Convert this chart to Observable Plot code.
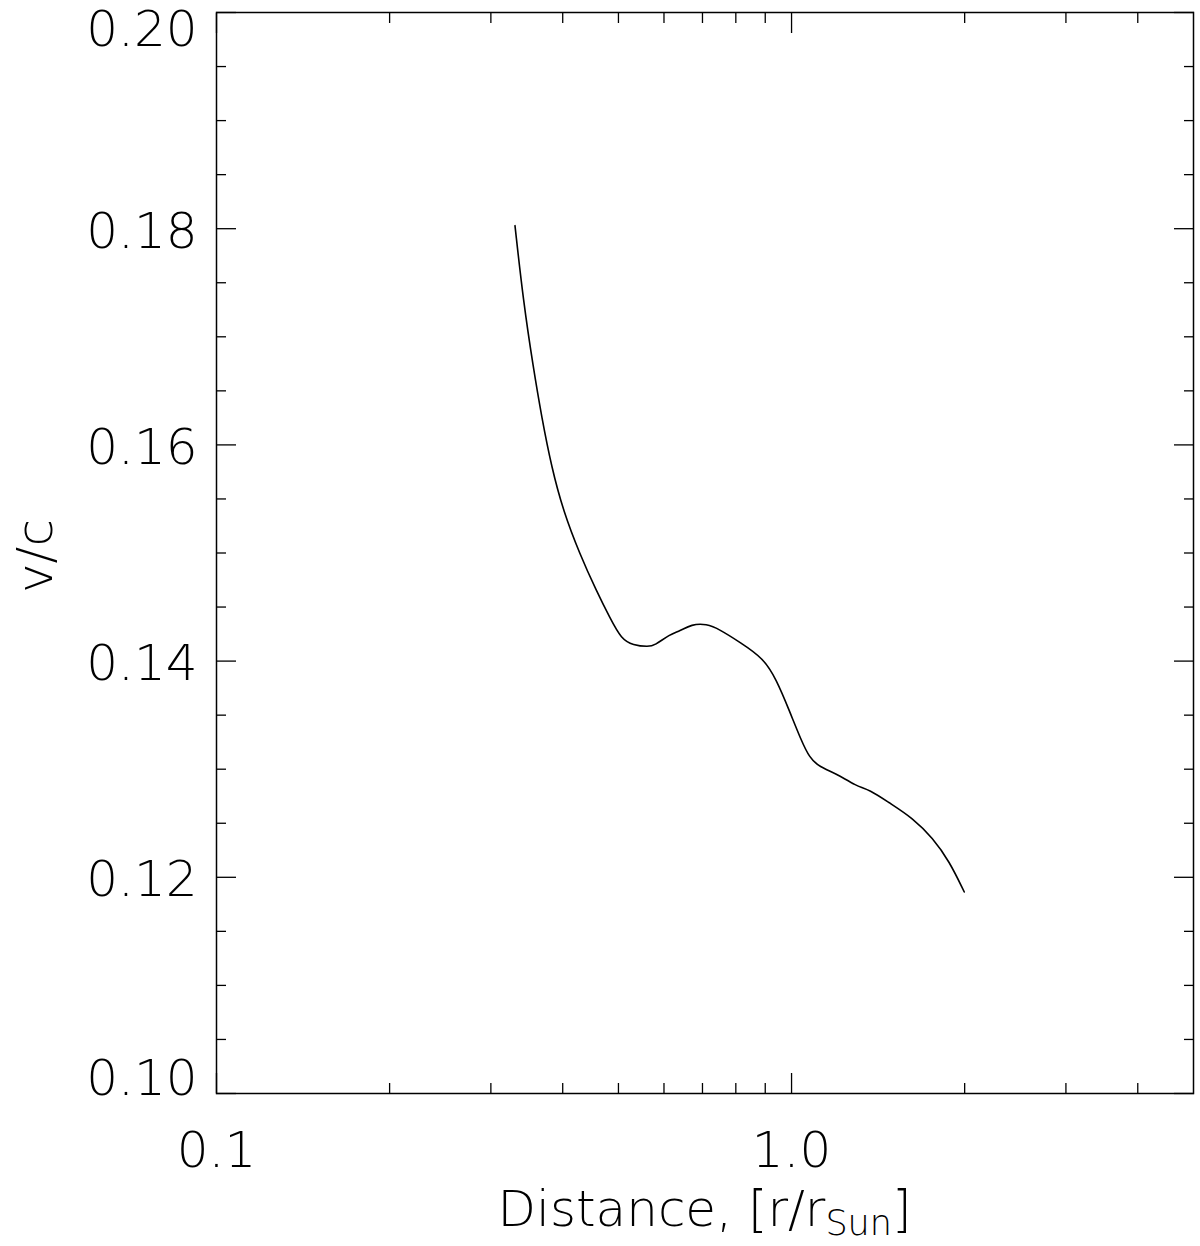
<!DOCTYPE html>
<html>
<head>
<meta charset="utf-8">
<script src="https://cdn.jsdelivr.net/npm/d3@7"></script>
<script src="https://cdn.jsdelivr.net/npm/@observablehq/plot@0.6"></script>
<style>
  html, body { margin: 0; padding: 0; background: #fff; }
  svg { font-family: "DejaVu Sans", sans-serif; font-weight: 200; }
  svg text { font-weight: 200; }
</style>
</head>
<body>
<div id="chart"></div>
<script>
// Distance r/r_Sun
const distance = [0.3304, 0.3416, 0.3555, 0.3678, 0.3827, 0.4009, 0.4284, 0.4580, 0.4831, 0.5062,
  0.5302, 0.5630, 0.5781, 0.6141, 0.6391, 0.6697, 0.7111, 0.7499, 0.8123, 0.8919,
  0.9406, 0.9920, 1.039, 1.0746, 1.1185, 1.1956, 1.2958, 1.366, 1.480, 1.624,
  1.760, 1.881, 1.997];
// v/c
const velocity = [0.18028, 0.17333, 0.16716, 0.16253, 0.15790, 0.15389, 0.14988, 0.14648, 0.14401, 0.14201,
  0.14148, 0.14132, 0.14145, 0.14247, 0.14278, 0.14340, 0.14345, 0.14293, 0.14176, 0.14031,
  0.13833, 0.13537, 0.13269, 0.13105, 0.13021, 0.12960, 0.12843, 0.12812, 0.12688, 0.12549,
  0.12364, 0.12148, 0.11864];

const xMajor = [0.1, 1.0];
const xMinor = [0.2, 0.3, 0.4, 0.5, 0.6, 0.7, 0.8, 0.9, 2, 3, 4];
const yMajorMid = [0.12, 0.14, 0.16, 0.18];
const yMajor = [0.10, 0.12, 0.14, 0.16, 0.18, 0.20];
const yMinor = [0.105, 0.110, 0.115, 0.125, 0.130, 0.135, 0.145, 0.150, 0.155,
  0.165, 0.170, 0.175, 0.185, 0.190, 0.195];

const data = distance.map((d, i) => ({x: d, y: velocity[i]}));

const W = 1200, H = 1246;
const mL = 216, mT = 12, mR = 7, mB = 153;
const fs = 50;

const plot = Plot.plot({
  width: W, height: H,
  marginLeft: mL, marginTop: mT, marginRight: mR, marginBottom: mB,
  style: {fontFamily: '"DejaVu Sans", sans-serif', fontSize: fs + "px", color: "#000", background: "#fff"},
  x: {type: "log", domain: [0.1, 5]},
  y: {domain: [0.10, 0.20]},
  marks: [
    // minor ticks (inward)
    Plot.axisX({anchor: "bottom", ticks: xMinor, tickSize: -10, text: null, label: null, strokeWidth: 1.3}),
    Plot.axisX({anchor: "top", ticks: xMinor, tickSize: -10, text: null, label: null, strokeWidth: 1.3}),
    Plot.axisX({anchor: "bottom", ticks: xMajor, tickSize: -20, text: null, label: null, strokeWidth: 1.3}),
    Plot.axisX({anchor: "top", ticks: xMajor, tickSize: -20, text: null, label: null, strokeWidth: 1.3}),
    Plot.axisY({anchor: "left", ticks: yMinor, tickSize: -10, text: null, label: null, strokeWidth: 1.3}),
    Plot.axisY({anchor: "right", ticks: yMinor, tickSize: -10, text: null, label: null, strokeWidth: 1.3}),
    Plot.axisY({anchor: "left", ticks: yMajor, tickSize: -20, text: null, label: null, strokeWidth: 1.3}),
    Plot.axisY({anchor: "right", ticks: yMajor, tickSize: -20, text: null, label: null, strokeWidth: 1.3}),
    // tick labels
    Plot.axisX({anchor: "bottom", ticks: xMajor, tickSize: 0, tickPadding: 38, tickFormat: d => d.toFixed(1), label: null, fontSize: fs}),
    Plot.axisY({anchor: "left", ticks: yMajorMid, tickSize: 0, tickPadding: 19, tickFormat: d => d.toFixed(2), label: null, fontSize: fs, dy: 3}),
    Plot.axisY({anchor: "left", ticks: [0.20], tickSize: 0, tickPadding: 19, tickFormat: d => d.toFixed(2), label: null, fontSize: fs, dy: 17}),
    Plot.axisY({anchor: "left", ticks: [0.10], tickSize: 0, tickPadding: 19, tickFormat: d => d.toFixed(2), label: null, fontSize: fs, dy: -15}),
    Plot.frame({stroke: "#000", strokeWidth: 1.5}),
    Plot.line(data, {x: "x", y: "y", stroke: "#000", strokeWidth: 1.6, curve: "basis"}),
    Plot.text(["v/c"], {frameAnchor: "left", textAnchor: "middle", dx: -181, dy: 3, rotate: -90, text: d => d, fontSize: fs, fill: "#000"})
  ]
});

// x-axis title with subscript
const svg = d3.select(plot);
const t = svg.append("text")
  .attr("x", (mL + W - mR) / 2)
  .attr("y", 1226)
  .attr("text-anchor", "middle")
  .attr("font-size", fs)
  .attr("fill", "#000");
t.append("tspan").text("Distance, [r/r");
t.append("tspan").attr("font-size", fs * 0.7).attr("dy", 9).text("Sun");
t.append("tspan").attr("dy", -9).text("]");

document.getElementById("chart").appendChild(plot);
</script>
</body>
</html>
